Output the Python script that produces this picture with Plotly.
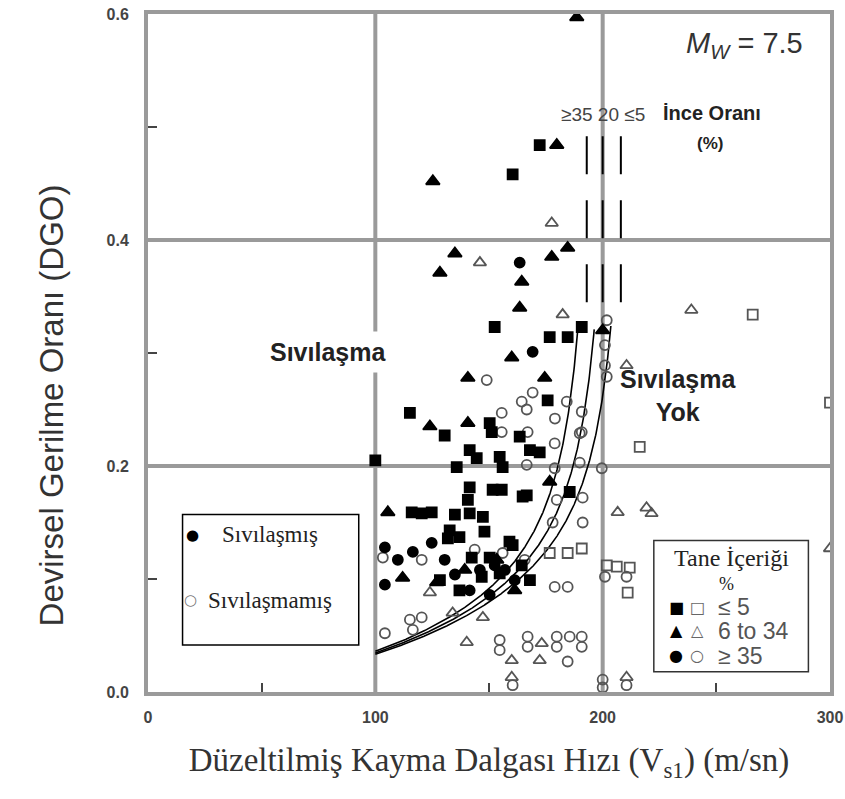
import numpy as np
import plotly.graph_objects as go

# ---------------- data (x = Vs1 m/s, y = CRR) ----------------
liq_fc5_x = [100, 115.2, 152.5, 160.4, 172.3, 190.8, 176.7, 184.6, 175.8, 130.5, 141.5, 144.6, 135.8, 154.7, 156,
             163.5, 168, 172.3, 141.5, 151.6, 155.6, 166.6, 150.3, 151.2, 140.7, 116, 120.4, 124.8, 135, 141.5,
             147.3, 148, 132.7, 137, 131.9, 159, 160.4, 164.4, 168, 142.4, 150.3, 128.4, 137, 146.8, 154.7,
             164.8, 185.5]
liq_fc5_y = [0.205, 0.247, 0.323, 0.458, 0.484, 0.323, 0.314, 0.314, 0.258, 0.227, 0.214, 0.207, 0.199, 0.208, 0.199,
             0.226, 0.214, 0.212, 0.181, 0.179, 0.179, 0.174, 0.238, 0.230, 0.170, 0.159, 0.158, 0.159, 0.157, 0.158,
             0.155, 0.142, 0.143, 0.137, 0.136, 0.133, 0.130, 0.112, 0.099, 0.119, 0.119, 0.099, 0.090, 0.102, 0.105,
             0.173, 0.177]

liq_fc34_x = [188.6, 179.8, 125.3, 135, 128.4, 177.6, 184.6, 164.4, 163.5, 160, 140.7, 174.5, 140.7, 124,
              105.5, 112, 176.7, 127, 139.3, 153.4, 161.3, 200]
liq_fc34_y = [0.597, 0.484, 0.452, 0.388, 0.371, 0.385, 0.393, 0.363, 0.340, 0.296, 0.278, 0.278, 0.238, 0.235,
              0.159, 0.101, 0.186, 0.097, 0.108, 0.117, 0.090, 0.320]

liq_fc35_x = [163.5, 169.2, 104.2, 104.2, 109.9, 116.5, 124.8, 130.5, 135, 146, 152.5, 157, 161.3, 141.5, 150.3]
liq_fc35_y = [0.380, 0.301, 0.128, 0.095, 0.117, 0.124, 0.132, 0.117, 0.104, 0.108, 0.112, 0.108, 0.099, 0.090, 0.086]

non_fc5_x = [266, 300, 216.3, 176.7, 184.6, 190.8, 201.8, 206.2, 211.9, 211]
non_fc5_y = [0.334, 0.256, 0.217, 0.123, 0.123, 0.127, 0.112, 0.111, 0.110, 0.088]

non_fc34_x = [177.6, 146, 182.4, 239, 210.5, 206.6, 219.3, 221.5, 300, 124, 134, 140.2, 147.3, 160, 172.3,
              173.2, 210.5, 160]
non_fc34_y = [0.415, 0.380, 0.334, 0.338, 0.289, 0.159, 0.163, 0.158, 0.127, 0.088, 0.070, 0.044, 0.066, 0.028,
              0.028, 0.043, 0.013, 0.013]

non_fc35_x = [149, 169.2, 164.4, 166.6, 184.2, 190.8, 201.8, 201, 201, 201.8, 190.8, 189.9, 199.6, 178.9, 178.9,
              166.6, 155.6, 167, 155.6, 179, 103.3, 104.2, 115.2, 116.5, 120.4, 154.7, 154.7, 178.9, 184.6, 201,
              210.5, 167, 167, 179.8, 179.8, 185.5, 190.8, 190.8, 184.6, 160.4, 200, 200, 210.5, 189.9, 191.2,
              179.8, 165.7, 178, 191.2, 156, 143.7, 120.4]
non_fc35_y = [0.276, 0.265, 0.257, 0.250, 0.257, 0.248, 0.329, 0.307, 0.289, 0.279, 0.230, 0.203, 0.198, 0.220, 0.198,
              0.201, 0.247, 0.230, 0.230, 0.242, 0.119, 0.052, 0.064, 0.055, 0.066, 0.046, 0.037, 0.093, 0.093, 0.102,
              0.102, 0.049, 0.040, 0.049, 0.040, 0.049, 0.049, 0.040, 0.027, 0.006, 0.011, 0.004, 0.006, 0.229, 0.172,
              0.170, 0.117, 0.150, 0.150, 0.123, 0.126, 0.117]

# Andrus & Stokoe curve parameters
curve_a = 0.022
curve_b = 2.8
curve_vs1_star = [200, 207.5, 215]
curve_crr_max = 0.325
asymptote_x = [193, 200, 208]
asymptote_y = [0.345, 0.50]

x_ticks = [0, 100, 200, 300]
x_tick_text = ["0", "100", "200", "300"]
y_ticks = [0.0, 0.2, 0.4, 0.6]
y_tick_text = ["0.0", "0.2", "0.4", "0.6"]

# ---------------- figure ----------------
fig = go.Figure()

GRID = "#9a9a9a"
for gx in [100, 200]:
    fig.add_shape(type="line", x0=gx, x1=gx, y0=0, y1=0.6, line=dict(color=GRID, width=4), layer="below")
for gy in [0.2, 0.4]:
    fig.add_shape(type="line", x0=0, x1=300, y0=gy, y1=gy, line=dict(color=GRID, width=4), layer="below")

# boundary curves
for vstar in curve_vs1_star:
    v = np.linspace(100, vstar - 0.5, 600)
    crr = curve_a * (v / 100) ** 2 + curve_b * (1 / (vstar - v) - 1 / vstar)
    m = crr <= curve_crr_max
    fig.add_trace(go.Scatter(x=v[m], y=crr[m], mode="lines", line=dict(color="black", width=1.6),
                             showlegend=False, hoverinfo="skip"))
for ax in asymptote_x:
    fig.add_trace(go.Scatter(x=[ax, ax], y=asymptote_y, mode="lines",
                             line=dict(color="black", width=2, dash="38px,26px"), showlegend=False))

OPEN = "#555555"
series = [
    (non_fc5_x, non_fc5_y, "square-open", 10, OPEN),
    (non_fc34_x, non_fc34_y, "triangle-up-open", 11, OPEN),
    (non_fc35_x, non_fc35_y, "circle-open", 10, OPEN),
    (liq_fc5_x, liq_fc5_y, "square", 10, "black"),
    (liq_fc34_x, liq_fc34_y, "triangle-up", 12, "black"),
    (liq_fc35_x, liq_fc35_y, "circle", 10, "black"),
]
for xs, ys, sym, size, col in series:
    fig.add_trace(go.Scatter(x=xs, y=ys, mode="markers",
                             marker=dict(symbol=sym, size=size, color=col, line=dict(width=1.8, color=col)),
                             showlegend=False))

SANS = "Liberation Sans, Arial, sans-serif"
SERIF = "Liberation Serif, Times New Roman, serif"
SYM = "DejaVu Sans, sans-serif"

ann = []
ann.append(dict(x=262.5, y=0.573, text="<i>M</i><sub><i>W</i></sub> = 7.5", font=dict(family=SANS, size=29, color="#333")))
ann.append(dict(x=200, y=0.511, text="≥35 20 ≤5", font=dict(family=SANS, size=19, color="#444")))
ann.append(dict(x=248, y=0.512, text="<b>İnce Oranı</b>", font=dict(family=SANS, size=20, color="#222")))
ann.append(dict(x=247, y=0.485, text="<b>(%)</b>", font=dict(family=SANS, size=17, color="#222")))
ann.append(dict(x=79, y=0.301, text="<b>Sıvılaşma</b>", font=dict(family=SANS, size=25, color="#222"),
                bgcolor="white", borderpad=6))
ann.append(dict(x=233, y=0.262, text="<b>Sıvılaşma<br>Yok</b>", font=dict(family=SANS, size=25, color="#222")))

for a in ann:
    a.update(xref="x", yref="y", showarrow=False)
    fig.add_annotation(**a)

# legend box 1
fig.add_shape(type="rect", xref="x", yref="y", x0=15.2, x1=92.7, y0=0.0416, y1=0.157,
              line=dict(color="black", width=1.5), fillcolor="white")
leg1 = [("●", "black", 19.5, 0.139, 31.5, "Sıvılaşmış"), ("○", "#777", 18.5, 0.081, 25.5, "Sıvılaşmamış")]
for sym, col, sx, yy, tx, txt in leg1:
    fig.add_annotation(xref="x", yref="y", x=sx, y=yy, showarrow=False, text=sym,
                       font=dict(family=SYM, size=15, color=col))
    fig.add_annotation(xref="x", yref="y", x=tx, y=yy, xanchor="left", showarrow=False, text=txt,
                       font=dict(family=SERIF, size=23, color="#222"))

# legend box 2
fig.add_shape(type="rect", xref="x", yref="y", x0=222.5, x1=290.5, y0=0.018, y1=0.134,
              line=dict(color="#333", width=1.5), fillcolor="white")
fig.add_annotation(xref="x", yref="y", x=256.5, y=0.119, showarrow=False,
                   text="Tane İçeriği", font=dict(family=SERIF, size=24, color="#222"))
fig.add_annotation(xref="x", yref="y", x=254.5, y=0.096, showarrow=False,
                   text="%", font=dict(family=SERIF, size=18, color="#222"))
rows = [("■", "□", "≤ 5", 0.075), ("▲", "△", "6 to 34", 0.054), ("●", "○", "≥ 35", 0.032)]
for f, o, t, yy in rows:
    fig.add_annotation(xref="x", yref="y", x=232.3, y=yy, showarrow=False, text=f,
                       font=dict(family=SYM, size=16, color="black"))
    fig.add_annotation(xref="x", yref="y", x=241.5, y=yy, showarrow=False, text=o,
                       font=dict(family=SYM, size=16, color="#666"))
    fig.add_annotation(xref="x", yref="y", x=250, y=yy, xanchor="left", showarrow=False, text=t,
                       font=dict(family=SANS, size=23, color="#555"))

# rotated y title
fig.add_annotation(xref="paper", yref="paper", x=-0.172, y=0.423, showarrow=False, textangle=-90,
                   text="Devirsel Gerilme Oranı (DGO)", font=dict(family=SANS, size=33, color="#333"))

fig.update_xaxes(range=[0, 300], tickvals=x_ticks, ticktext=x_tick_text, showgrid=False, zeroline=False,
                 showline=True, linecolor=GRID, linewidth=4, mirror=True, ticks="inside", ticklen=0,
                 minor=dict(tickvals=[50, 150, 250], ticks="inside", ticklen=9, tickcolor="#444", tickwidth=2),
                 tickfont=dict(family=SANS, size=16, color="#444", weight="bold"),
                 title=dict(text="Düzeltilmiş Kayma Dalgası Hızı (V<sub>s1</sub>) (m/sn)",
                            font=dict(family=SERIF, size=33, color="#333"), standoff=24),
                 ticklabelstandoff=8, automargin=False)
fig.update_yaxes(range=[0, 0.6], tickvals=y_ticks, ticktext=y_tick_text, showgrid=False, zeroline=False,
                 showline=True, linecolor=GRID, linewidth=4, mirror=True, ticks="inside", ticklen=0,
                 minor=dict(tickvals=[0.1, 0.3, 0.5], ticks="inside", ticklen=9, tickcolor="#444", tickwidth=2),
                 tickfont=dict(family=SANS, size=16, color="#444", weight="bold"),
                 ticklabelstandoff=12, automargin=False)

fig.update_layout(width=845, height=799, margin=dict(l=148, r=15, t=14, b=107),
                  paper_bgcolor="white", plot_bgcolor="white", showlegend=False)

fig.write_html("out.html")
